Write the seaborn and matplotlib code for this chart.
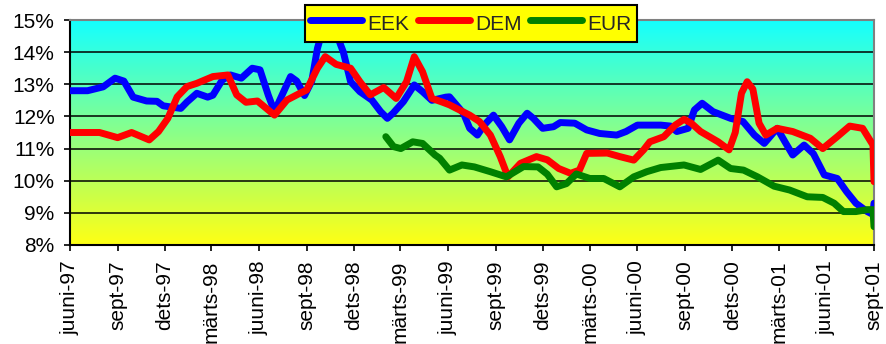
import numpy as np
import pandas as pd
import matplotlib
matplotlib.use("Agg")
import matplotlib.pyplot as plt
from matplotlib.lines import Line2D
import seaborn as sns

# ---------------- data ----------------
eek_dates = ["1997-06-01", "1997-07-05", "1997-08-04", "1997-08-27", "1997-09-13",
             "1997-10-01", "1997-10-27", "1997-11-16", "1997-11-28", "1998-01-01",
             "1998-01-13", "1998-02-01", "1998-02-22", "1998-03-04", "1998-03-22",
             "1998-04-07", "1998-04-28", "1998-05-19", "1998-06-03", "1998-06-19",
             "1998-07-01", "1998-08-01", "1998-08-13", "1998-08-28", "1998-09-11",
             "1998-09-22", "1998-10-04", "1998-10-16", "1998-10-28", "1998-11-11",
             "1998-11-25", "1998-12-13", "1999-01-05", "1999-01-22", "1999-02-04",
             "1999-02-15", "1999-03-07", "1999-03-28", "1999-04-13", "1999-05-01",
             "1999-05-28", "1999-06-04", "1999-07-01", "1999-07-13", "1999-07-28",
             "1999-08-10", "1999-08-28", "1999-09-13", "1999-09-28", "1999-10-16",
             "1999-11-01", "1999-11-13", "1999-12-01", "1999-12-22", "2000-01-04",
             "2000-02-01", "2000-02-24", "2000-03-20", "2000-04-22", "2000-05-10",
             "2000-06-01", "2000-07-16", "2000-08-04", "2000-08-16", "2000-09-07",
             "2000-09-19", "2000-10-04", "2000-10-25", "2000-11-28", "2000-12-22",
             "2001-01-13", "2001-02-01", "2001-02-26", "2001-03-13", "2001-03-28",
             "2001-04-19", "2001-05-07", "2001-05-28", "2001-06-22", "2001-07-10",
             "2001-07-28", "2001-08-19", "2001-08-30", "2001-09-01"]
eek_values = [12.80, 12.80, 12.92, 13.19, 13.10,
              12.60, 12.48, 12.47, 12.33, 12.25,
              12.45, 12.72, 12.60, 12.66, 13.13,
              13.29, 13.19, 13.50, 13.45, 12.66,
              12.15, 13.24, 13.10, 12.65, 13.10,
              14.12, 14.80, 15.10, 14.60, 14.00,
              13.08, 12.77, 12.51, 12.15, 11.94,
              12.10, 12.46, 12.98, 12.77, 12.50,
              12.60, 12.61, 12.10, 11.63, 11.42,
              11.73, 12.04, 11.68, 11.27, 11.79,
              12.10, 11.94, 11.63, 11.68, 11.81,
              11.79, 11.58, 11.47, 11.42, 11.53,
              11.73, 11.73, 11.70, 11.53, 11.63,
              12.20, 12.41, 12.15, 11.94, 11.84,
              11.42, 11.16, 11.63, 11.21, 10.80,
              11.11, 10.84, 10.18, 10.07, 9.66,
              9.30, 9.04, 8.95, 9.30]

dem_dates = ["1997-06-01", "1997-07-28", "1997-09-01", "1997-09-28", "1997-11-01",
             "1997-11-19", "1997-12-07", "1997-12-25", "1998-01-13", "1998-02-01",
             "1998-03-04", "1998-04-02", "1998-04-19", "1998-05-07", "1998-05-29",
             "1998-07-01", "1998-07-25", "1998-08-19", "1998-09-01", "1998-09-22",
             "1998-10-07", "1998-10-28", "1998-11-25", "1998-12-13", "1999-01-02",
             "1999-01-28", "1999-02-21", "1999-03-13", "1999-03-28", "1999-04-13",
             "1999-05-01", "1999-05-22", "1999-06-04", "1999-07-13", "1999-08-01",
             "1999-08-22", "1999-09-10", "1999-09-25", "1999-10-19", "1999-11-19",
             "1999-12-10", "2000-01-01", "2000-01-24", "2000-02-10", "2000-02-24",
             "2000-04-04", "2000-04-28", "2000-05-25", "2000-06-13", "2000-06-25",
             "2000-07-22", "2000-08-13", "2000-08-30", "2000-09-13", "2000-10-01",
             "2000-11-04", "2000-11-25", "2000-12-07", "2000-12-19", "2000-12-30",
             "2001-01-10", "2001-01-22", "2001-02-04", "2001-02-26", "2001-03-28",
             "2001-05-01", "2001-05-25", "2001-06-22", "2001-07-16", "2001-08-10",
             "2001-08-30", "2001-09-01"]
dem_values = [11.50, 11.50, 11.34, 11.50, 11.27,
              11.53, 11.94, 12.61, 12.93, 13.03,
              13.24, 13.29, 12.67, 12.44, 12.48,
              12.04, 12.51, 12.72, 12.82, 13.50,
              13.86, 13.62, 13.50, 13.08, 12.67,
              12.90, 12.56, 13.08, 13.86, 13.39,
              12.56, 12.44, 12.36, 12.04, 11.84,
              11.42, 10.75, 10.12, 10.54, 10.75,
              10.65, 10.38, 10.23, 10.33, 10.85,
              10.86, 10.75, 10.64, 10.96, 11.21,
              11.37, 11.73, 11.91, 11.79, 11.53,
              11.21, 10.96, 11.50, 12.72, 13.08,
              12.85, 11.79, 11.42, 11.63, 11.53,
              11.32, 11.00, 11.37, 11.70, 11.63,
              11.11, 9.97]

eur_dates = ["1999-02-01", "1999-02-16", "1999-03-02", "1999-03-25", "1999-04-13",
             "1999-05-07", "1999-05-16", "1999-06-04", "1999-06-28", "1999-07-22",
             "1999-08-22", "1999-09-22", "1999-10-25", "1999-11-22", "1999-12-10",
             "1999-12-28", "2000-01-16", "2000-02-04", "2000-03-01", "2000-03-28",
             "2000-04-28", "2000-05-25", "2000-06-19", "2000-07-16", "2000-08-30",
             "2000-10-01", "2000-11-04", "2000-11-28", "2000-12-23", "2001-01-19",
             "2001-02-20", "2001-03-22", "2001-04-25", "2001-05-25", "2001-06-16",
             "2001-07-04", "2001-07-28", "2001-08-19", "2001-08-30", "2001-09-01"]
eur_values = [11.37, 11.06, 11.00, 11.21, 11.16,
              10.80, 10.70, 10.33, 10.49, 10.43,
              10.28, 10.12, 10.44, 10.43, 10.20,
              9.81, 9.91, 10.21, 10.07, 10.07,
              9.81, 10.12, 10.28, 10.41, 10.49,
              10.35, 10.64, 10.38, 10.33, 10.12,
              9.83, 9.71, 9.50, 9.48, 9.30,
              9.04, 9.04, 9.10, 9.10, 8.57]

series_names = ["EEK", "DEM", "EUR"]
series_colors = ["#0000FF", "#FF0000", "#008000"]

x_tick_labels = ["juuni-97", "sept-97", "dets-97", "märts-98", "juuni-98", "sept-98",
                 "dets-98", "märts-99", "juuni-99", "sept-99", "dets-99", "märts-00",
                 "juuni-00", "sept-00", "dets-00", "märts-01", "juuni-01", "sept-01"]
y_ticks = [8, 9, 10, 11, 12, 13, 14, 15]
y_tick_labels = ["8%", "9%", "10%", "11%", "12%", "13%", "14%", "15%"]

# ---------------- build table ----------------
frames = []
for name, d, v in zip(series_names, [eek_dates, dem_dates, eur_dates],
                      [eek_values, dem_values, eur_values]):
    frames.append(pd.DataFrame({"date": pd.to_datetime(d), "rate": v, "series": name}))
df = pd.concat(frames, ignore_index=True)

sns.set_theme(style="white")
plt.rcParams["font.family"] = ["Liberation Sans", "DejaVu Sans"]

W, H = 886, 344
fig = plt.figure(figsize=(W / 100, H / 100), dpi=100)
ax = fig.add_axes([70 / W, 1 - 245 / H, (874 - 70) / W, (245 - 20) / H])

sns.lineplot(data=df, x="date", y="rate", hue="series", hue_order=series_names,
             palette=series_colors, linewidth=5, ax=ax, legend=False,
             estimator=None, sort=False, zorder=3)
for ln in ax.get_lines():
    ln.set_solid_capstyle("round")
    ln.set_solid_joinstyle("round")

# background gradient cyan -> yellow
t = np.linspace(0, 1, 256)[:, None]
top_c = np.array([0.08, 1.0, 1.0])
bot_c = np.array([1.0, 1.0, 0.08])
grad = (top_c * (1 - t) + bot_c * t)[:, None, :]
ax.imshow(grad, extent=(0, 1, 0, 1), transform=ax.transAxes, aspect="auto",
          zorder=0, interpolation="bilinear")

tick_dates = pd.date_range("1997-06-01", periods=len(x_tick_labels), freq="3MS")
ax.set_xlim(tick_dates[0], tick_dates[-1])
ax.set_ylim(y_ticks[0], y_ticks[-1])
ax.set_xticks(tick_dates)
ax.set_xticklabels(x_tick_labels, rotation=90, ha="center", va="top")
ax.set_yticks(y_ticks)
ax.set_yticklabels(y_tick_labels)
ax.set_xlabel("")
ax.set_ylabel("")

ax.yaxis.grid(True, color="black", linewidth=1.1, zorder=1)
ax.xaxis.grid(False)
ax.set_axisbelow(True)

ax.tick_params(axis="both", direction="out", length=4, width=1.2, color="black",
               labelsize=15, labelcolor="black", bottom=True, left=True)
ax.tick_params(axis="y", pad=7)
ax.tick_params(axis="x", pad=7)

for s in ["left", "bottom"]:
    ax.spines[s].set_color("black")
    ax.spines[s].set_linewidth(1.5)
for s in ["top", "right"]:
    ax.spines[s].set_color("#808080")
    ax.spines[s].set_linewidth(1.5)

handles = [Line2D([0], [0], color=c, lw=5, solid_capstyle="round") for c in series_colors]
leg = ax.legend(handles, series_names, loc="upper center",
                bbox_to_anchor=(471 / W, 1 - 5 / H), bbox_transform=fig.transFigure,
                ncol=3, frameon=True, fancybox=False, facecolor="#FFFF00",
                edgecolor="black", framealpha=1, fontsize=15, handlelength=2.5,
                handleheight=1.6, handletextpad=0.25, columnspacing=0.4,
                borderpad=0.25, borderaxespad=0)
leg.get_frame().set_linewidth(1.5)
leg.set_zorder(10)

fig.savefig("out.png", dpi=100)
